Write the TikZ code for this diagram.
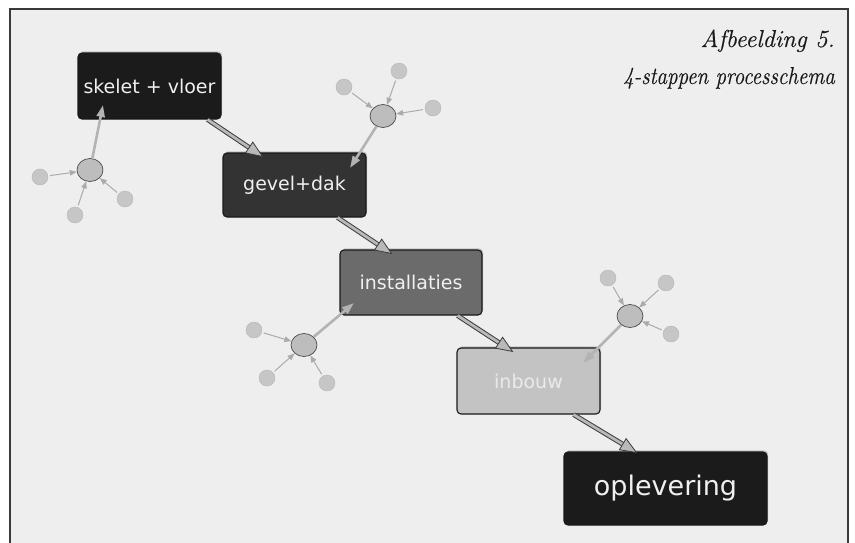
\documentclass[tikz,border=0pt]{standalone}
\usepackage{fontspec}
\newfontfamily\boxfont{DejaVu Sans}
\newfontfamily\capfont[FakeBold=0.35]{Latin Modern Roman}
\usetikzlibrary{calc,arrows.meta,shadows,shapes.geometric}
\definecolor{bgc}{HTML}{EEEEEE}
\definecolor{framec}{HTML}{3A3A3A}
\definecolor{bandc}{HTML}{B9B9B9}
\definecolor{edgec}{HTML}{3C3C3C}
\definecolor{hubfill}{HTML}{BDBDBD}
\definecolor{hubdraw}{HTML}{4A4A4A}
\definecolor{satfill}{HTML}{C6C6C6}
\definecolor{satline}{HTML}{ABABAB}
\definecolor{hubline}{HTML}{B3B3B3}
\definecolor{boxA}{HTML}{1B1B1B}
\definecolor{boxB}{HTML}{333333}
\definecolor{boxC}{HTML}{6B6B6B}
\definecolor{boxD}{HTML}{C3C3C3}
\definecolor{txtA}{HTML}{F0F0F0}
\definecolor{txtD}{HTML}{EAEAEA}
\tikzset{
  procbox/.style={rectangle, rounded corners=4pt, draw=black!90, line width=1.1pt,
    inner sep=0pt, font=\boxfont\fontsize{19}{22}\selectfont, text=txtA,
    drop shadow={shadow xshift=1.2pt, shadow yshift=1.6pt, fill=black, opacity=0.18}},
  hubnode/.style={ellipse, minimum width=26pt, minimum height=23pt, inner sep=0pt,
    fill=hubfill, draw=hubdraw, line width=0.7pt},
  satnode/.style={circle, minimum size=16pt, inner sep=0pt, fill=satfill, draw=satfill!92!black, line width=0.4pt},
  satarrow/.style={draw=satline, line width=1pt, shorten <=2pt, -{Triangle[length=7pt,width=5.5pt]}},
  hubarrow/.style={draw=hubline, line width=2.6pt, -{Triangle[length=12pt,width=8pt]}},
  captxt/.style={anchor=base east, font=\capfont\itshape\fontsize{24.5}{28}\selectfont, text=black!90, inner sep=0pt}
}
\newcommand{\procarrow}[2]{%
  \coordinate (pa-s) at #1;
  \coordinate (pa-t) at #2;
  \coordinate (pa-b) at ($(pa-t)!16pt!(pa-s)$);
  \draw[edgec, line width=4.8pt] (pa-s) -- ($(pa-t)!14pt!(pa-s)$);
  \draw[bandc, line width=2.8pt] (pa-s) -- ($(pa-t)!14.5pt!(pa-s)$);
  \filldraw[fill=bandc, draw=edgec, line width=0.8pt, line join=miter]
    (pa-t) -- ($(pa-b)!6.5pt!90:(pa-t)$) -- ($(pa-b)!6.5pt!-90:(pa-t)$) -- cycle;
}
\begin{document}
\begin{tikzpicture}[x=1pt, y=-1pt]
\useasboundingbox (0,0) rectangle (855,542);
\fill[white] (0,0) rectangle (855,542);
\draw[framec, line width=1.3pt, fill=bgc] (10,9) rectangle (848,560);

% caption
\node[captxt] (cap1) at (835,47) {Afbeelding 5.};
\node[captxt] (cap2) at (835,84) {\scalebox{0.86}[1]{4-stappen processchema}};

% process boxes
\node[procbox, fill=boxA, minimum width=143pt, minimum height=66pt] (sk) at (149.5,86) {skelet + vloer};
\node[procbox, fill=boxB, minimum width=143pt, minimum height=64pt] (gd) at (294.5,185) {gevel+dak};
\node[procbox, fill=boxC, minimum width=142pt, minimum height=65pt] (in) at (411,282.5) {installaties};
\node[procbox, fill=boxD, text=txtD, minimum width=143pt, minimum height=66pt] (ib) at (528.5,381) {inbouw};
\node[procbox, fill=boxA, minimum width=203pt, minimum height=73pt, font=\boxfont\fontsize{27}{31}\selectfont] (op) at (665.5,488.5) {oplevering};

% process arrows
\procarrow{([xshift=-14pt]sk.south east)}{([xshift=40pt,yshift=-4pt]gd.north west)}
\procarrow{([xshift=-29pt]gd.south east)}{([xshift=52pt,yshift=-4pt]in.north west)}
\procarrow{([xshift=-25pt]in.south east)}{([xshift=56pt,yshift=-4pt]ib.north west)}
\procarrow{([xshift=-27pt]ib.south east)}{([xshift=73pt,yshift=-1pt]op.north west)}

% hubs
\node[hubnode] (h1) at (90,170) {};
\node[hubnode] (h2) at (383,116) {};
\node[hubnode] (h3) at (304,345) {};
\node[hubnode] (h4) at (630,316) {};

% satellites
\node[satnode] (s11) at (40,177) {};
\node[satnode] (s12) at (75,215) {};
\node[satnode] (s13) at (125,199) {};
\node[satnode] (s21) at (344,87) {};
\node[satnode] (s22) at (399,71) {};
\node[satnode] (s23) at (433,108) {};
\node[satnode] (s31) at (254,330) {};
\node[satnode] (s32) at (267,378) {};
\node[satnode] (s33) at (327,383) {};
\node[satnode] (s41) at (608,278) {};
\node[satnode] (s42) at (666,283) {};
\node[satnode] (s43) at (671,334) {};

\foreach \h/\s in {h1/s11,h1/s12,h1/s13,h2/s21,h2/s22,h2/s23,h3/s31,h3/s32,h3/s33,h4/s41,h4/s42,h4/s43}
  \draw[satarrow] (\s) -- (\h);

% hub arrow ends
\coordinate (t1) at (103,105);
\coordinate (t2) at (350,168);
\coordinate (t3) at (354,303);
\coordinate (t4) at (583,363);
\draw[hubarrow] (h1) -- (t1);
\draw[hubarrow] (h2) -- (t2);
\draw[hubarrow] (h3) -- (t3);
\draw[hubarrow] (h4) -- (t4);
\end{tikzpicture}
\end{document}
